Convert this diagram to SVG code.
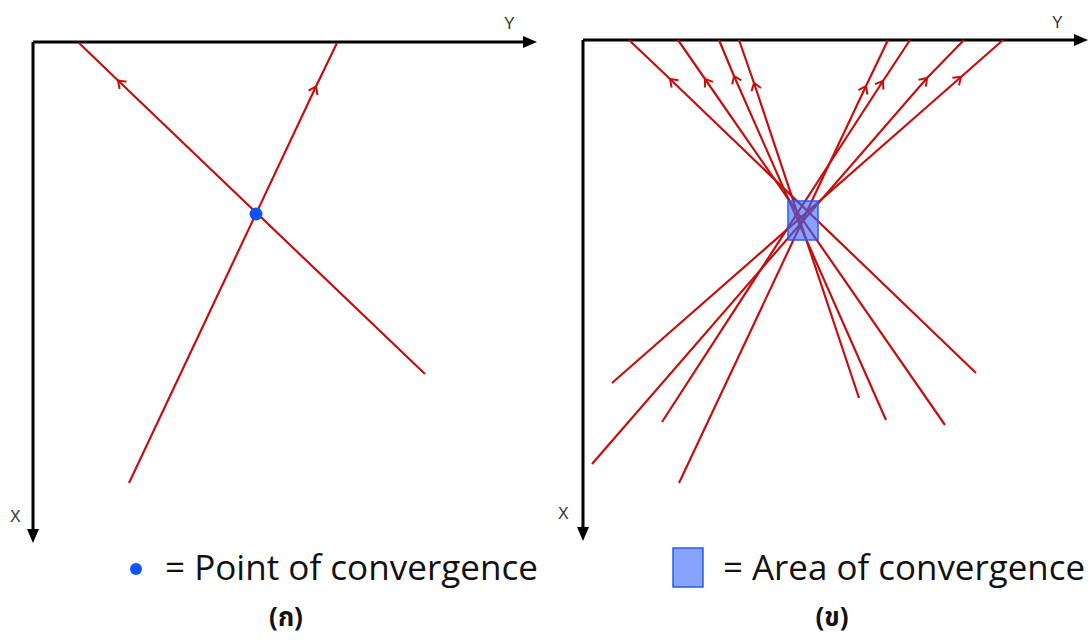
<svg xmlns="http://www.w3.org/2000/svg" width="1090" height="641" viewBox="0 0 1090 641">
<defs>
<style>
.axis{stroke:#000;stroke-width:3;fill:none}
.ray{stroke:#c40f0f;stroke-width:2.2;fill:none;marker-mid:url(#chev)}
.lbl{font-family:"Liberation Sans",Arial,sans-serif;font-size:16px;fill:#333}
.leg{font-family:"Open Sans","Liberation Sans",sans-serif;font-size:34px;fill:#111}
.cap{font-family:"Noto Sans Thai","Tahoma","DejaVu Sans",sans-serif;font-size:26px;font-weight:bold;fill:#111}
.area{fill:#3366ff;fill-opacity:0.6;stroke:#2a5cf0;stroke-width:1.5}
</style>
<marker id="chev" viewBox="-9 -7 11 14" markerWidth="11" markerHeight="14" refX="0" refY="0" orient="auto" markerUnits="userSpaceOnUse">
<path d="M-7,-5 L0,0 L-7,5" fill="none" stroke="#c40f0f" stroke-width="2"/>
</marker>
<marker id="ah" viewBox="0 0 14 12" markerWidth="14" markerHeight="12" refX="0" refY="6" orient="auto" markerUnits="userSpaceOnUse">
<path d="M0,0 L14,6 L0,12 Z" fill="#000"/>
</marker>
</defs>
<rect width="1090" height="641" fill="#fff"/>

<g id="panel-a-axes">
<path class="axis" d="M33,42 H523" marker-end="url(#ah)"/>
<path class="axis" d="M33,42 V529" marker-end="url(#ah)"/>
<text class="lbl" x="504" y="29">Y</text>
<text class="lbl" x="10" y="522">X</text>
</g>

<g id="panel-a-rays">
<path class="ray" d="M425,374 L118,80.5 L79,43"/>
<path class="ray" d="M129,483 L316,86.5 L337,43"/>
</g>

<g id="point-of-convergence">
<circle cx="256" cy="214" r="6.5" fill="#0a55ff"/>
</g>

<g id="panel-b-axes">
<path class="axis" d="M583,40 H1074" marker-end="url(#ah)"/>
<path class="axis" d="M583,40 V527" marker-end="url(#ah)"/>
<text class="lbl" x="1052" y="28">Y</text>
<text class="lbl" x="558" y="519">X</text>
</g>

<g id="panel-b-rays">
<path class="ray" d="M976,373 L670,79 L629,40"/>
<path class="ray" d="M945,425 L705,79 L678,40"/>
<path class="ray" d="M886,420 L734,76 L719,40"/>
<path class="ray" d="M859,398 L754,83 L739,40"/>
<path class="ray" d="M679,483 L866,86 L888,40"/>
<path class="ray" d="M662,422 L883,81 L910,40"/>
<path class="ray" d="M592,464 L927,78 L964,40"/>
<path class="ray" d="M612,383 L961,77 L1003,40"/>
</g>

<g id="area-of-convergence">
<rect class="area" x="788" y="201" width="30" height="39"/>
</g>

<g id="legend-a">
<circle cx="136" cy="569" r="6" fill="#0a55ff"/>
<text class="leg" x="165" y="580" textLength="373" lengthAdjust="spacingAndGlyphs">= Point of convergence</text>
</g>

<g id="legend-b">
<rect class="area" x="673" y="548" width="30" height="39"/>
<text class="leg" x="723" y="580" textLength="362" lengthAdjust="spacingAndGlyphs">= Area of convergence</text>
</g>

<g id="captions">
<text class="cap" x="286" y="626" text-anchor="middle">(ก)</text>
<text class="cap" x="832" y="626" text-anchor="middle">(ข)</text>
</g>
</svg>
